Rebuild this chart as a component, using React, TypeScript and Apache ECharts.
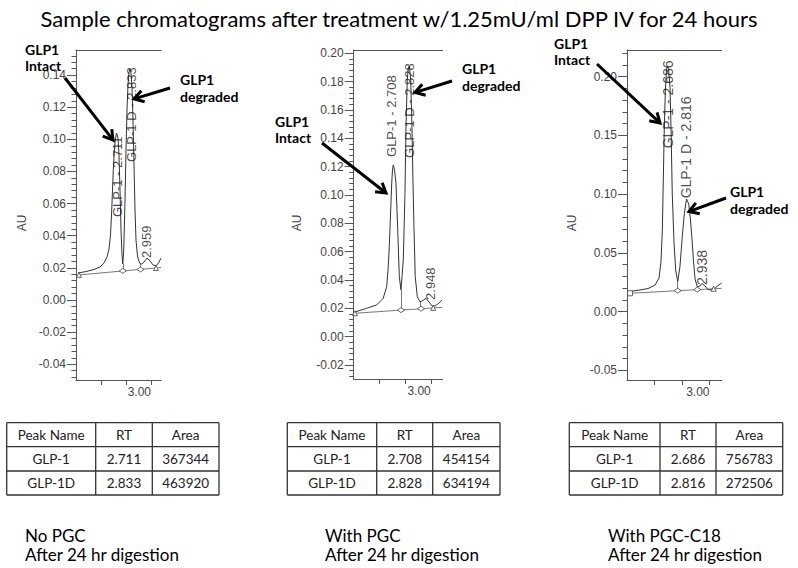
import { useEffect, useRef } from "react";
import * as echarts from "echarts";

// ---------------- DATA ----------------
const TITLE = "Sample chromatograms after treatment w/1.25mU/ml DPP IV for 24 hours";
const Y_NAME = "AU";
const X_TICK_LABEL = "3.00";

// Panel 1 – No PGC: [time (min), absorbance (AU)]
const trace1: number[][] = [
  [2.416, 0.0168], [2.48, 0.0177], [2.544, 0.019], [2.592, 0.0205], [2.624, 0.023], [2.648, 0.0268],
  [2.664, 0.0317], [2.676, 0.0404], [2.684, 0.0529], [2.692, 0.0684], [2.7, 0.084], [2.712, 0.0983],
  [2.724, 0.1039], [2.736, 0.1008], [2.744, 0.0902], [2.752, 0.0684], [2.76, 0.0436], [2.768, 0.028],
  [2.774, 0.0224], [2.782, 0.0311], [2.792, 0.0622], [2.8, 0.0933], [2.808, 0.1182], [2.816, 0.1338],
  [2.824, 0.1419], [2.832, 0.1437], [2.84, 0.1413], [2.848, 0.1319], [2.856, 0.112], [2.864, 0.084],
  [2.872, 0.056], [2.88, 0.0373], [2.892, 0.0274], [2.908, 0.023], [2.924, 0.0224], [2.944, 0.0236],
  [2.968, 0.0261], [2.992, 0.0243], [3.016, 0.0218], [3.04, 0.0212], [3.06, 0.023], [3.08, 0.0261],
];
const baseline1: number[][] = [[2.424, 0.0156], [3.08, 0.0202]];
const markers1: (number | string)[][] = [
  [2.424, 0.0156, "triangle"], [2.774, 0.0181, "diamond"], [2.916, 0.019, "diamond"], [3.04, 0.0199, "triangle"],
];
const drops1: number[][] = [[2.774, 0.0224, 0.0181], [2.916, 0.0226, 0.019]];
const peakLabels1: (number | string)[][] = [
  [2.732, 0.0516, "GLP-1 - 2.711"], [2.84, 0.0859, "GLP-1 D - 2.833"], [2.964, 0.0261, "2.959"],
];
const yLabels1 = [-0.04, -0.02, 0, 0.02, 0.04, 0.06, 0.08, 0.1, 0.12, 0.14];

// Panel 2 – With PGC
const trace2: number[][] = [
  [2.41, 0.0174], [2.501, 0.02], [2.579, 0.0224], [2.63, 0.0271], [2.657, 0.0353], [2.669, 0.0494],
  [2.677, 0.0635], [2.688, 0.0894], [2.696, 0.1083], [2.702, 0.1176], [2.708, 0.1212], [2.718, 0.1176],
  [2.729, 0.1083], [2.742, 0.0776], [2.755, 0.0423], [2.768, 0.033], [2.786, 0.0541], [2.799, 0.1012],
  [2.807, 0.1482], [2.817, 0.1812], [2.825, 0.1896], [2.833, 0.191], [2.844, 0.1812], [2.854, 0.1459],
  [2.861, 0.1106], [2.869, 0.0776], [2.879, 0.0423], [2.895, 0.0282], [2.916, 0.0245], [2.939, 0.0255],
  [2.963, 0.027], [2.986, 0.0245], [3.009, 0.0217], [3.033, 0.0217], [3.056, 0.0231], [3.087, 0.0259],
];
const baseline2: number[][] = [[2.41, 0.0165], [3.09, 0.0207]];
const markers2: (number | string)[][] = [
  [2.41, 0.0165, "triangle"], [2.768, 0.0187, "diamond"], [2.924, 0.0197, "diamond"], [3.019, 0.0203, "triangle"],
];
const drops2: number[][] = [[2.768, 0.033, 0.0187], [2.916, 0.0245, 0.0196]];
const peakLabels2: (number | string)[][] = [
  [2.698, 0.1268, "GLP-1 - 2.708"], [2.838, 0.1261, "GLP-1 D - 2.828"], [2.994, 0.0259, "2.948"],
];
const yLabels2 = [-0.02, 0, 0.02, 0.04, 0.06, 0.08, 0.1, 0.12, 0.14, 0.16, 0.18, 0.2];

// Panel 3 – With PGC-C18
const trace3: number[][] = [
  [2.422, 0.0172], [2.495, 0.0185], [2.553, 0.0197], [2.604, 0.0227], [2.633, 0.0287], [2.647, 0.0423],
  [2.657, 0.0695], [2.664, 0.1121], [2.671, 0.1546], [2.679, 0.1887], [2.687, 0.2057], [2.695, 0.2091],
  [2.703, 0.2057], [2.713, 0.1904], [2.72, 0.1572], [2.729, 0.101], [2.742, 0.0585], [2.754, 0.0355],
  [2.769, 0.0257], [2.785, 0.0383], [2.802, 0.0638], [2.817, 0.0837], [2.833, 0.0959], [2.849, 0.0917],
  [2.862, 0.078], [2.873, 0.061], [2.884, 0.0423], [2.895, 0.0278], [2.911, 0.0213], [2.931, 0.0219],
  [2.945, 0.024], [2.967, 0.0219], [2.989, 0.0189], [3.011, 0.0185], [3.033, 0.0193], [3.058, 0.0219],
  [3.088, 0.0244],
];
const baseline3: number[][] = [[2.422, 0.0157], [3.088, 0.0199]];
const markers3: (number | string)[][] = [
  [2.422, 0.0157, "rect"], [2.769, 0.0179, "diamond"], [2.911, 0.0188, "diamond"], [3.03, 0.0195, "triangle"],
];
const drops3: number[][] = [[2.769, 0.0257, 0.0179], [2.911, 0.0213, 0.0188]];
const peakLabels3: (number | string)[][] = [
  [2.695, 0.139, "GLP-1 - 2.686"], [2.829, 0.0965, "GLP-1 D - 2.816"], [2.949, 0.0227, "2.938"],
];
const yLabels3 = [-0.05, 0, 0.05, 0.1, 0.15, 0.2];

// Tables
const tableHeader = ["Peak Name", "RT", "Area"];
const table1 = [["GLP-1", "2.711", "367344"], ["GLP-1D", "2.833", "463920"]];
const table2 = [["GLP-1", "2.708", "454154"], ["GLP-1D", "2.828", "634194"]];
const table3 = [["GLP-1", "2.686", "756783"], ["GLP-1D", "2.816", "272506"]];

// Captions and annotations
const captions = [
  ["No PGC", "After 24 hr digestion"],
  ["With PGC", "After 24 hr digestion"],
  ["With PGC-C18", "After 24 hr digestion"],
];
const intactText = ["GLP1", "Intact"];
const degradedText = ["GLP1", "degraded"];

// ---------------- LAYOUT / STYLE ----------------
const AXIS_FONT = "'Liberation Sans', Arial, sans-serif";
const BODY_FONT = "Lato, 'Noto Sans', sans-serif";
const INK = "#333";

function range(a: number, b: number, step: number) {
  const out: number[] = [];
  for (let v = a; v <= b + 1e-9; v += step) out.push(Math.round(v * 10000) / 10000);
  return out;
}

const panels = [
  {
    grid: { left: 76, top: 50, width: 85, height: 330 },
    xMax: 3.08, yMin: -0.0498, yMax: 0.1556,
    yLabels: yLabels1, yMinor: range(-0.048, 0.152, 0.004),
    trace: trace1, baseline: baseline1, markers: markers1, drops: drops1, peaks: peakLabels1,
    labelSize: 13, auX: 22,
    intact: { x: 25, y: 49, tail: [65, 78], head: [113, 140] },
    degraded: { x: 180, y: 79.5, tail: [170, 88], head: [134, 99] },
    table: { cols: [6.7, 95.7, 152.3, 219], rows: [422.7, 446.7, 471, 495], data: table1 },
    caption: { x: 25, y: 535, lines: captions[0] },
  },
  {
    grid: { left: 353.7, top: 50, width: 88.9, height: 329 },
    xMax: 3.092, yMin: -0.0299, yMax: 0.2023,
    yLabels: yLabels2, yMinor: range(-0.028, 0.2, 0.004),
    trace: trace2, baseline: baseline2, markers: markers2, drops: drops2, peaks: peakLabels2,
    labelSize: 13, auX: 297,
    intact: { x: 275, y: 121.5, tail: [322, 143], head: [386, 193] },
    degraded: { x: 462, y: 68.5, tail: [452, 81], head: [415, 92.5] },
    table: { cols: [287.3, 376.7, 432.7, 500], rows: [422.7, 446.7, 471, 495], data: table2 },
    caption: { x: 325, y: 535, lines: captions[1] },
  },
  {
    grid: { left: 627, top: 50, width: 94.6, height: 330 },
    xMax: 3.088, yMin: -0.0581, yMax: 0.2227,
    yLabels: yLabels3, yMinor: range(-0.05, 0.22, 0.01),
    trace: trace3, baseline: baseline3, markers: markers3, drops: drops3, peaks: peakLabels3,
    labelSize: 14, auX: 572,
    intact: { x: 554, y: 43.5, tail: [597, 64], head: [660, 123] },
    degraded: { x: 730, y: 191.5, tail: [726, 198], head: [689, 211.5] },
    table: { cols: [569.3, 660, 716, 782.7], rows: [422.7, 446.7, 471, 495], data: table3 },
    caption: { x: 608, y: 535, lines: captions[2] },
  },
];

function arrow(tail: number[], head: number[]) {
  const a = Math.atan2(head[1] - tail[1], head[0] - tail[0]);
  const L = 11, spread = 0.55;
  const p1 = [head[0] - L * Math.cos(a - spread), head[1] - L * Math.sin(a - spread)];
  const p2 = [head[0] - L * Math.cos(a + spread), head[1] - L * Math.sin(a + spread)];
  return [
    { type: "line", shape: { x1: tail[0], y1: tail[1], x2: head[0] - 2 * Math.cos(a), y2: head[1] - 2 * Math.sin(a) }, style: { stroke: "#000", lineWidth: 3 }, z: 20 },
    { type: "polyline", shape: { points: [p1, head, p2] }, style: { stroke: "#000", lineWidth: 3, fill: null, lineJoin: "miter" }, z: 20 },
  ];
}

function twoLines(x: number, y: number, lines: string[], size: number, weight: string, gap: number) {
  return lines.map((t, k) => ({
    type: "text", x, y: y + k * gap, z: 20,
    style: { text: t, font: `${weight} ${size}px ${BODY_FONT}`, fill: "#000", align: "left", verticalAlign: "middle" },
  }));
}

function buildOption() {
  const grid: any[] = [], xAxis: any[] = [], yAxis: any[] = [], series: any[] = [], graphic: any[] = [];
  const axisLineStyle = { color: "#555", width: 1 };

  panels.forEach((p, i) => {
    grid.push({ ...p.grid, containLabel: false });
    xAxis.push({
      type: "value", gridIndex: i, min: 2.4, max: p.xMax, interval: 0.2, position: "bottom",
      axisLine: { show: true, onZero: false, lineStyle: axisLineStyle },
      axisTick: { show: true, length: 5, lineStyle: axisLineStyle },
      axisLabel: {
        show: true, margin: 6, align: "right", fontFamily: AXIS_FONT, fontSize: 12, color: "#444",
        showMinLabel: false, showMaxLabel: false,
        formatter: (v: number) => (Math.abs(v - 3) < 1e-6 ? X_TICK_LABEL : ""),
      },
      splitLine: { show: false },
    });
    xAxis.push({
      type: "value", gridIndex: i, min: 2.4, max: p.xMax, position: "top",
      axisLine: { show: true, onZero: false, lineStyle: axisLineStyle },
      axisTick: { show: false }, axisLabel: { show: false }, splitLine: { show: false },
    });
    yAxis.push({
      type: "value", gridIndex: i, min: p.yMin, max: p.yMax, position: "left",
      axisLine: { show: true, onZero: false, lineStyle: axisLineStyle },
      axisTick: { show: true, length: 9, customValues: p.yLabels, lineStyle: axisLineStyle },
      axisLabel: {
        show: true, customValues: p.yLabels, margin: 10, fontFamily: AXIS_FONT, fontSize: 12, color: "#444",
        formatter: (v: number) => v.toFixed(2),
      },
      splitLine: { show: false },
    });
    yAxis.push({
      type: "value", gridIndex: i, min: p.yMin, max: p.yMax, position: "left",
      axisLine: { show: false },
      axisTick: { show: true, length: 4.5, customValues: p.yMinor, lineStyle: axisLineStyle },
      axisLabel: { show: false }, splitLine: { show: false },
    });
    const xi = 2 * i, yi = 2 * i;
    series.push({
      type: "line", xAxisIndex: xi, yAxisIndex: yi, data: p.trace, symbol: "none", showSymbol: false,
      lineStyle: { color: INK, width: 1 }, z: 3, silent: true,
    });
    series.push({
      type: "line", xAxisIndex: xi, yAxisIndex: yi, data: p.baseline, symbol: "none", showSymbol: false,
      lineStyle: { color: "#555", width: 0.8 }, z: 2, silent: true,
    });
    series.push({
      type: "lines", coordinateSystem: "cartesian2d", xAxisIndex: xi, yAxisIndex: yi,
      data: p.drops.map((d) => ({ coords: [[d[0], d[1]], [d[0], d[2]]] })),
      lineStyle: { color: "#555", width: 0.8, opacity: 1 }, z: 2, silent: true,
    });
    series.push({
      type: "scatter", xAxisIndex: xi, yAxisIndex: yi,
      data: p.markers.map((m) => ({ value: [m[0], m[1]], symbol: m[2], symbolSize: m[2] === "diamond" ? [7, 5] : 5 })),
      itemStyle: { color: "#fff", borderColor: "#444", borderWidth: 0.8, opacity: 1 }, z: 5, silent: true,
    });
    series.push({
      type: "scatter", xAxisIndex: xi, yAxisIndex: yi,
      data: p.peaks.map((pk) => ({ value: [pk[0], pk[1]], name: pk[2] })),
      symbolSize: 0, z: 6, silent: true,
      label: {
        show: true, formatter: "{b}", position: [0, 0], rotate: 90, align: "left", verticalAlign: "middle",
        fontFamily: AXIS_FONT, fontSize: p.labelSize, color: "#1a1a1a",
      },
    });

    // axis name
    graphic.push({
      type: "text", x: p.auX, y: 223, rotation: Math.PI / 2,
      style: { text: Y_NAME, font: `12px ${AXIS_FONT}`, fill: "#444", align: "center", verticalAlign: "middle" },
    });

    // annotations
    graphic.push(...twoLines(p.intact.x, p.intact.y, intactText, 14, "bold", 16));
    graphic.push(...arrow(p.intact.tail, p.intact.head));
    graphic.push(...twoLines(p.degraded.x, p.degraded.y, degradedText, 14, "bold", 16.5));
    graphic.push(...arrow(p.degraded.tail, p.degraded.head));

    // table
    const { cols, rows, data } = p.table;
    rows.forEach((ry) => {
      graphic.push({ type: "line", shape: { x1: cols[0], y1: ry, x2: cols[3], y2: ry }, style: { stroke: "#333", lineWidth: 1.3 } });
    });
    cols.forEach((cx) => {
      graphic.push({ type: "line", shape: { x1: cx, y1: rows[0], x2: cx, y2: rows[3] }, style: { stroke: "#333", lineWidth: 1.3 } });
    });
    const allRows = [tableHeader, ...data];
    allRows.forEach((r, ri) => {
      r.forEach((cell, ci) => {
        graphic.push({
          type: "text", x: (cols[ci] + cols[ci + 1]) / 2, y: (rows[ri] + rows[ri + 1]) / 2,
          style: { text: cell, font: `13.5px ${BODY_FONT}`, fill: "#222", align: "center", verticalAlign: "middle" },
        });
      });
    });

    // caption
    graphic.push(...twoLines(p.caption.x, p.caption.y, p.caption.lines, 17, "normal", 19));
  });

  graphic.push({
    type: "text", x: 399, y: 18,
    style: { text: TITLE, font: `22px ${BODY_FONT}`, fill: "#000", align: "center", verticalAlign: "middle" },
  });

  return { animation: false, backgroundColor: "#fff", grid, xAxis, yAxis, series, graphic };
}

export default function App() {
  const ref = useRef<HTMLDivElement>(null);
  useEffect(() => {
    const chart = echarts.init(ref.current!, null, { renderer: "svg" });
    chart.setOption(buildOption() as any);
    return () => chart.dispose();
  }, []);
  return (
    <div
      ref={ref}
      style={{ position: "fixed", left: 0, top: 0, width: 798, height: 568, background: "#fff" }}
    />
  );
}
